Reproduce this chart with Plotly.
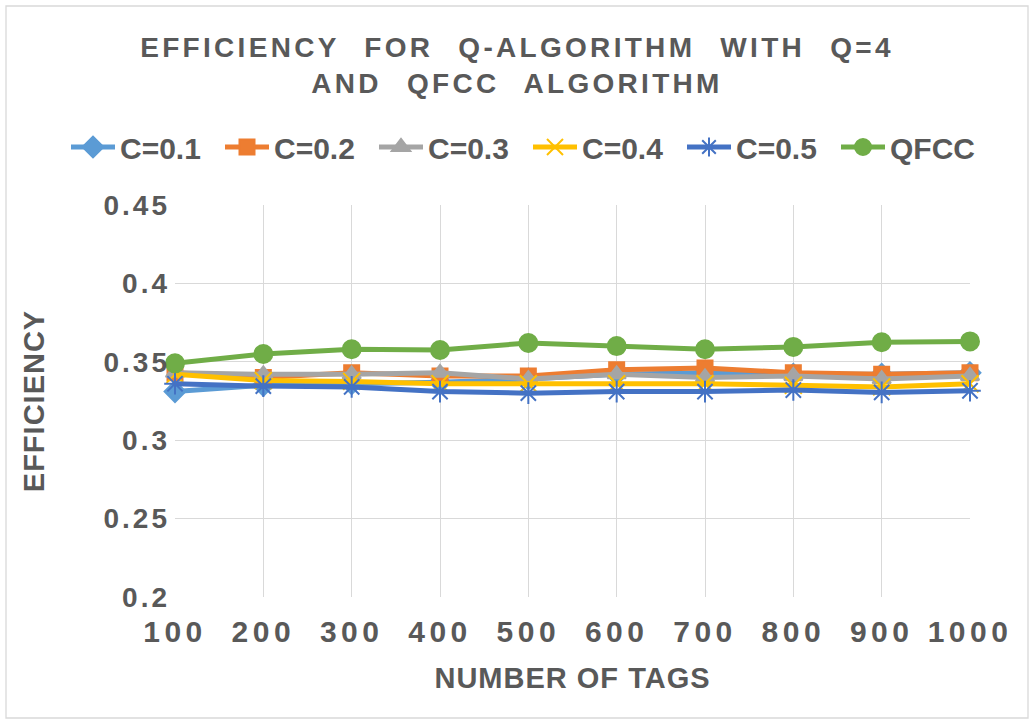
import plotly.graph_objects as go

tags = [100, 200, 300, 400, 500, 600, 700, 800, 900, 1000]
c01 = [0.331, 0.335, 0.336, 0.337, 0.339, 0.342, 0.343, 0.342, 0.342, 0.343]
c02 = [0.343, 0.340, 0.343, 0.341, 0.341, 0.345, 0.346, 0.343, 0.342, 0.343]
c03 = [0.343, 0.342, 0.342, 0.343, 0.339, 0.342, 0.340, 0.341, 0.339, 0.341]
c04 = [0.342, 0.338, 0.3375, 0.336, 0.336, 0.336, 0.336, 0.335, 0.334, 0.336]
c05 = [0.336, 0.3345, 0.334, 0.331, 0.330, 0.331, 0.331, 0.332, 0.3305, 0.3315]
qfcc = [0.349, 0.355, 0.358, 0.3575, 0.362, 0.360, 0.358, 0.3595, 0.3625, 0.363]

names = ["C=0.1", "C=0.2", "C=0.3", "C=0.4", "C=0.5", "QFCC"]
series = [c01, c02, c03, c04, c05, qfcc]
colors = ["#5B9BD5", "#ED7D31", "#A5A5A5", "#FFC000", "#4472C4", "#70AD47"]
symbols = ["diamond", "square", "triangle-up", "x-thin-open", "asterisk-open", "circle"]
sizes = [16, 15, 16, 17, 18, 18]

TXT = "#595959"
GRID = "#D9D9D9"
FONT = "Liberation Sans, Arial, sans-serif"

fig = go.Figure()
for n, s, c, sym, sz in zip(names, series, colors, symbols, sizes):
    fig.add_trace(go.Scatter(
        x=tags, y=s, name=n, mode="lines+markers",
        line=dict(color=c, width=5),
        marker=dict(symbol=sym, size=sz, color=c, line=dict(color=c, width=2)),
        cliponaxis=False,
    ))

L, R, T, B = 175, 64, 205, 126
W, H = 1034, 723
pw, ph = W - L - R, H - T - B

def px_x(p):
    return (p - L) / pw

def px_y(p):
    return (H - B - p) / ph

fig.update_layout(
    width=W, height=H,
    margin=dict(l=L, r=R, t=T, b=B, autoexpand=False),
    paper_bgcolor="white", plot_bgcolor="white",
    font=dict(family=FONT, color=TXT),
    title=dict(
        text="EFFICIENCY FOR Q-ALGORITHM WITH Q=4<br>AND QFCC ALGORITHM",
        font=dict(size=28, color=TXT, weight="bold"),
        x=0.5, xref="container", xanchor="center",
        y=1 - 57 / H, yanchor="middle",
    ),
    legend=dict(
        orientation="h", xref="paper", yref="paper",
        x=px_x(66), xanchor="left", y=px_y(147), yanchor="middle",
        font=dict(size=30, color=TXT, weight="bold"),
        entrywidth=95, entrywidthmode="pixels", itemwidth=44,
        bgcolor="rgba(0,0,0,0)",
    ),
    xaxis=dict(
        range=[100, 1000], dtick=100, tick0=100,
        showgrid=True, gridcolor=GRID, gridwidth=1.3,
        zeroline=False, showline=False, ticks="",
        tickfont=dict(size=30, color=TXT, weight="bold"),
        ticklabelstandoff=14,
        title=dict(text="NUMBER OF TAGS", standoff=20,
                   font=dict(size=29, color=TXT, weight="bold")),
    ),
    yaxis=dict(
        range=[0.2, 0.45], dtick=0.05, tick0=0.2,
        showgrid=True, gridcolor=GRID, gridwidth=1.3,
        zeroline=False, showline=False, ticks="",
        tickfont=dict(size=28, color=TXT, weight="bold"),
        ticklabelstandoff=4,
        title=dict(text="EFFICIENCY", standoff=62,
                   font=dict(size=29, color=TXT, weight="bold")),
    ),
    shapes=[dict(
        type="rect", xref="paper", yref="paper", layer="below",
        x0=px_x(6), x1=px_x(1028), y0=px_y(718), y1=px_y(6),
        line=dict(color=GRID, width=1.3), fillcolor="rgba(0,0,0,0)",
    )],
)

post = """
document.body.style.margin = '0';
function sp(){
  document.querySelectorAll('.gtitle').forEach(function(e){e.style.letterSpacing='3.3px'; e.style.wordSpacing='14px';});
  document.querySelectorAll('.xtick text').forEach(function(e){e.style.letterSpacing='4.5px';});
  document.querySelectorAll('.ytick text').forEach(function(e){e.style.letterSpacing='3px';});
  document.querySelectorAll('.g-xtitle text, .g-ytitle text').forEach(function(e){e.style.letterSpacing='1px';});
}
sp();
var gd = document.getElementById('{plot_id}');
if (gd && gd.on) { gd.on('plotly_afterplot', sp); }
"""

fig.write_html("out.html", post_script=post, config={"displayModeBar": False})
